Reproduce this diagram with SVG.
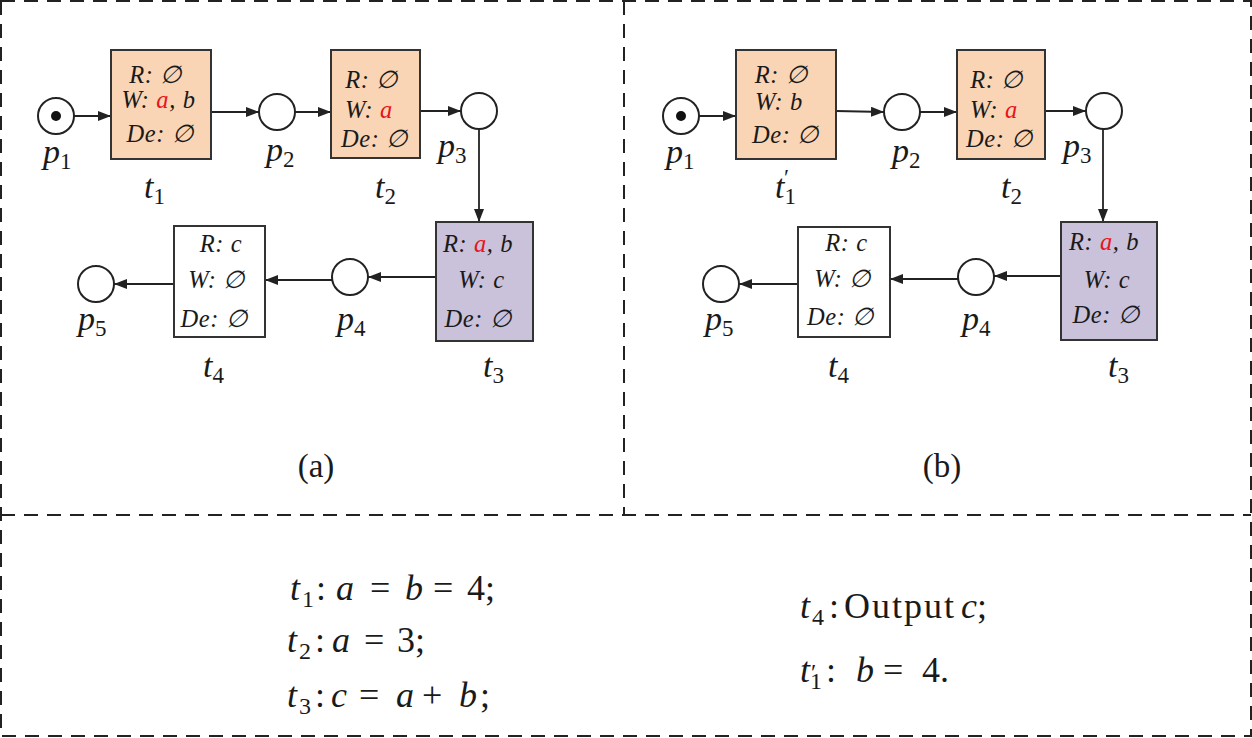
<svg xmlns="http://www.w3.org/2000/svg" width="1252" height="738" viewBox="0 0 1252 738">
<style>
.frame{fill:none;stroke:#222;stroke-width:2;stroke-dasharray:14 9}
.place{fill:#fff;stroke:#222;stroke-width:2}
.tok{fill:#111}
.peach{fill:#f9d5b6;stroke:#333;stroke-width:2}
.lav{fill:#cac2da;stroke:#333;stroke-width:2}
.white{fill:#fff;stroke:#333;stroke-width:2}
.bt{font-family:"Liberation Serif","DejaVu Serif",serif;font-style:italic;font-size:24.5px;letter-spacing:0.6px;fill:#1a1a1a;text-anchor:middle}
.red{fill:#e8141c}
.lbl{font-family:"Liberation Serif","DejaVu Serif",serif;font-style:italic;font-size:34px;fill:#1a1a1a}
.sub{font-style:normal;font-size:23px}
.cap{font-family:"Liberation Serif",serif;font-size:33px;fill:#1a1a1a;text-anchor:middle}
.eq{font-family:"Liberation Serif","DejaVu Serif",serif;font-size:36px;fill:#1a1a1a}
.it{font-style:italic}
.es{font-size:24px}
.conn{fill:none;stroke:#222;stroke-width:1.8}
</style>
<defs>
<marker id="ah" markerUnits="userSpaceOnUse" markerWidth="14" markerHeight="11" refX="13" refY="5" orient="auto">
<path d="M0,0 L13,5 L0,10 Z" fill="#222"/>
</marker>
</defs>

<g id="frames">
<rect class="frame" x="1" y="1" width="1250" height="735"/>
<line class="frame" x1="624" y1="1" x2="624" y2="515"/>
<line class="frame" x1="1" y1="515" x2="1251" y2="515"/>
</g>

<g id="connectors">
<path class="conn" marker-end="url(#ah)" d="M74,116 L111,116"/>
<path class="conn" marker-end="url(#ah)" d="M211,112 L259,112"/>
<path class="conn" marker-end="url(#ah)" d="M295,112 L331,112"/>
<path class="conn" marker-end="url(#ah)" d="M420,111 L461,111"/>
<path class="conn" marker-end="url(#ah)" d="M479,129 L479,222"/>
<path class="conn" marker-end="url(#ah)" d="M436,277 L368,277"/>
<path class="conn" marker-end="url(#ah)" d="M332,280 L265,280"/>
<path class="conn" marker-end="url(#ah)" d="M174,284 L114,284"/>

<path class="conn" marker-end="url(#ah)" d="M699,116 L736,116"/>
<path class="conn" marker-end="url(#ah)" d="M836,111 L884,112"/>
<path class="conn" marker-end="url(#ah)" d="M920,112 L957,112"/>
<path class="conn" marker-end="url(#ah)" d="M1045,111 L1086,111"/>
<path class="conn" marker-end="url(#ah)" d="M1103,129 L1103,222"/>
<path class="conn" marker-end="url(#ah)" d="M1061,276 L994,276"/>
<path class="conn" marker-end="url(#ah)" d="M958,279 L890,279"/>
<path class="conn" marker-end="url(#ah)" d="M798,284 L739,284"/>
</g>

<!-- Panel (a) -->
<g id="a_p1">
<circle class="place" cx="56" cy="116" r="18"/>
<circle class="tok" cx="56" cy="116" r="5"/>
<text class="lbl" x="43" y="163">p<tspan class="sub" dy="6">1</tspan></text>
</g>
<g id="a_t1">
<rect class="peach" x="111" y="50" width="100" height="109"/>
<text class="bt" x="155.5" y="83">R: ∅</text>
<text class="bt" x="158.5" y="108">W: <tspan class="red">a</tspan>, b</text>
<text class="bt" x="160" y="142">De: ∅</text>
<text class="lbl" x="144" y="198">t<tspan class="sub" dy="6">1</tspan></text>
</g>
<g id="a_p2">
<circle class="place" cx="277" cy="112" r="18"/>
<text class="lbl" x="266" y="161">p<tspan class="sub" dy="6">2</tspan></text>
</g>
<g id="a_t2">
<rect class="peach" x="331" y="50" width="89" height="108"/>
<text class="bt" x="371.5" y="88">R: ∅</text>
<text class="bt" x="369" y="118">W: <tspan class="red">a</tspan></text>
<text class="bt" x="374.5" y="147">De: ∅</text>
<text class="lbl" x="375" y="198">t<tspan class="sub" dy="6">2</tspan></text>
</g>
<g id="a_p3">
<circle class="place" cx="479" cy="111" r="18"/>
<text class="lbl" x="438" y="157">p<tspan class="sub" dy="6">3</tspan></text>
</g>
<g id="a_t3">
<rect class="lav" x="436" y="222" width="97" height="119"/>
<text class="bt" x="478" y="252">R: <tspan class="red">a</tspan>, b</text>
<text class="bt" x="481.5" y="288">W: c</text>
<text class="bt" x="478" y="327">De: ∅</text>
<text class="lbl" x="483" y="377">t<tspan class="sub" dy="6">3</tspan></text>
</g>
<g id="a_p4">
<circle class="place" cx="350" cy="277" r="18"/>
<text class="lbl" x="337" y="330">p<tspan class="sub" dy="6">4</tspan></text>
</g>
<g id="a_t4">
<rect class="white" x="174" y="226" width="91" height="111"/>
<text class="bt" x="221" y="252">R: c</text>
<text class="bt" x="216.5" y="288">W: ∅</text>
<text class="bt" x="214" y="327">De: ∅</text>
<text class="lbl" x="203" y="377">t<tspan class="sub" dy="6">4</tspan></text>
</g>
<g id="a_p5">
<circle class="place" cx="96" cy="284" r="18"/>
<text class="lbl" x="78" y="330">p<tspan class="sub" dy="6">5</tspan></text>
</g>
<text class="cap" x="316" y="477">(a)</text>

<!-- Panel (b) -->
<g id="b_p1">
<circle class="place" cx="681" cy="116" r="18"/>
<circle class="tok" cx="681" cy="116" r="5"/>
<text class="lbl" x="666" y="163">p<tspan class="sub" dy="6">1</tspan></text>
</g>
<g id="b_t1p">
<rect class="peach" x="736" y="50" width="100" height="109"/>
<text class="bt" x="781" y="83">R: ∅</text>
<text class="bt" x="779" y="110">W: b</text>
<text class="bt" x="785.5" y="143">De: ∅</text>
<text class="lbl" x="775" y="198">t<tspan class="sub" dy="6">1</tspan><tspan class="sub" x="784" y="185">′</tspan></text>
</g>
<g id="b_p2">
<circle class="place" cx="902" cy="112" r="18"/>
<text class="lbl" x="892" y="162">p<tspan class="sub" dy="6">2</tspan></text>
</g>
<g id="b_t2">
<rect class="peach" x="957" y="50" width="88" height="109"/>
<text class="bt" x="996.5" y="88">R: ∅</text>
<text class="bt" x="994" y="118">W: <tspan class="red">a</tspan></text>
<text class="bt" x="999.5" y="147">De: ∅</text>
<text class="lbl" x="1001" y="198">t<tspan class="sub" dy="6">2</tspan></text>
</g>
<g id="b_p3">
<circle class="place" cx="1104" cy="111" r="18"/>
<text class="lbl" x="1063" y="157">p<tspan class="sub" dy="6">3</tspan></text>
</g>
<g id="b_t3">
<rect class="lav" x="1061" y="222" width="96" height="118"/>
<text class="bt" x="1104" y="250">R: <tspan class="red">a</tspan>, b</text>
<text class="bt" x="1107" y="288">W: c</text>
<text class="bt" x="1106" y="323">De: ∅</text>
<text class="lbl" x="1108" y="377">t<tspan class="sub" dy="6">3</tspan></text>
</g>
<g id="b_p4">
<circle class="place" cx="976" cy="277" r="18"/>
<text class="lbl" x="962" y="330">p<tspan class="sub" dy="6">4</tspan></text>
</g>
<g id="b_t4">
<rect class="white" x="798" y="227" width="92" height="110"/>
<text class="bt" x="846.5" y="251">R: c</text>
<text class="bt" x="842.5" y="287">W: ∅</text>
<text class="bt" x="840.5" y="325">De: ∅</text>
<text class="lbl" x="828" y="377">t<tspan class="sub" dy="6">4</tspan></text>
</g>
<g id="b_p5">
<circle class="place" cx="721" cy="284" r="18"/>
<text class="lbl" x="705" y="330">p<tspan class="sub" dy="6">5</tspan></text>
</g>
<text class="cap" x="942" y="477">(b)</text>

<!-- Equations -->
<g id="equations">
<text class="eq"><tspan class="it" x="290" y="600">t</tspan><tspan class="es" x="302" y="607">1</tspan><tspan x="316" y="600">:</tspan><tspan class="it" x="336" y="600">a</tspan><tspan x="370" y="600">=</tspan><tspan class="it" x="405" y="600">b</tspan><tspan x="433" y="600">=</tspan><tspan x="467" y="600">4;</tspan></text>
<text class="eq"><tspan class="it" x="287" y="652">t</tspan><tspan class="es" x="299" y="659">2</tspan><tspan x="315" y="652">:</tspan><tspan class="it" x="332" y="652">a</tspan><tspan x="364" y="652">=</tspan><tspan x="397" y="652">3;</tspan></text>
<text class="eq"><tspan class="it" x="287" y="707">t</tspan><tspan class="es" x="299" y="714">3</tspan><tspan x="315" y="707">:</tspan><tspan class="it" x="331" y="707">c</tspan><tspan x="359" y="707">=</tspan><tspan class="it" x="396" y="707">a</tspan><tspan x="422" y="707">+</tspan><tspan class="it" x="459" y="707">b</tspan><tspan x="480" y="707">;</tspan></text>
<text class="eq"><tspan class="it" x="800" y="618">t</tspan><tspan class="es" x="812" y="625">4</tspan><tspan x="829" y="618">:</tspan><tspan x="844" y="618" textLength="110">Output</tspan><tspan class="it" x="961" y="618">c</tspan><tspan x="977" y="618">;</tspan></text>
<text class="eq"><tspan class="it" x="800" y="682">t</tspan><tspan class="es" x="810" y="689">1</tspan><tspan class="es" x="811" y="680">′</tspan><tspan x="826" y="682">:</tspan><tspan class="it" x="856" y="682">b</tspan><tspan x="883" y="682">=</tspan><tspan x="922" y="682">4.</tspan></text>
</g>
</svg>
